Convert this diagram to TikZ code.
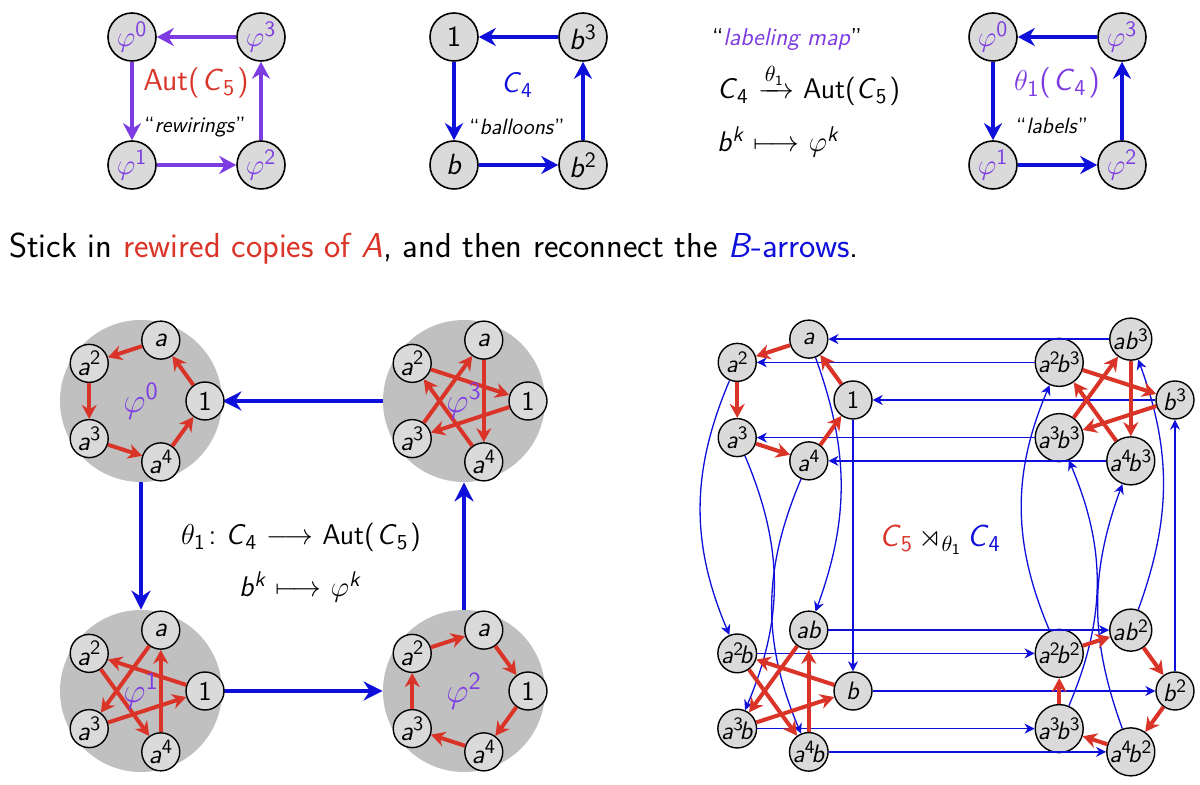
\documentclass[tikz,border=0pt]{standalone}
\usepackage{amsmath,amssymb}
\usetikzlibrary{arrows.meta}
\renewcommand\familydefault{\sfdefault}
\renewcommand\defaultscriptratio{.75}
\definecolor{cpur}{RGB}{125,60,225}
\definecolor{cred}{RGB}{218,52,40}
\definecolor{cblue}{RGB}{15,15,220}
\definecolor{nodegray}{RGB}{218,218,218}
\definecolor{balgray}{RGB}{192,192,192}
\newcommand\sps[1]{$^{\textup{#1}}$}
\newcommand\sbs[1]{$_{\textup{#1}}$}
\newcommand\Cn[1]{\textit{C}\sbs{#1}}
\newcommand\apow[1]{\ifcase#1 1\or\textit{a}\else\textit{a}\sps{#1}\fi}
\newcommand\bsup[1]{\ifnum#1>1 \sps{#1}\fi}
\newcommand\abp[2]{\ifnum#2=0 \apow{#1}\else\ifcase#1 \textit{b}\bsup{#2}\or\textit{ab}\bsup{#2}\else\textit{a}\sps{#1}\kern-.17em\textit{b}\ifnum\numexpr#1*10+#2\relax=32 \sps{3}\else\bsup{#2}\fi\fi\fi}
\tikzset{
 bignode/.style={circle, draw=black, line width=0.8pt, fill=nodegray, minimum size=24pt, inner sep=0pt, font=\fontsize{14.6}{16}\selectfont},
 smallnode/.style={circle, draw=black, line width=0.7pt, fill=nodegray, minimum size=19pt, inner sep=0pt, font=\fontsize{13.6}{15}\selectfont},
 cnode/.style={smallnode, font=\fontsize{12.6}{14}\selectfont},
 balloon/.style={circle, fill=balgray, minimum size=81pt, inner sep=0pt},
 tarrow/.style={line width=2pt, -{Stealth[length=8.5pt,width=9pt]}},
 rarrow/.style={cred, line width=2pt, -{Stealth[length=7pt,width=7.5pt]}},
 barrow/.style={cblue, line width=2.2pt, -{Stealth[length=9.5pt,width=9.5pt]}},
 carrow/.style={cblue, line width=0.65pt, -{Stealth[length=5pt,width=5pt]}},
 lbl/.style={font=\fontsize{14.2}{16}\selectfont},
 qlbl/.style={font=\fontsize{11.1}{13}\selectfont},
}
\begin{document}
\begin{tikzpicture}[x=0.5pt,y=-0.5pt]
\useasboundingbox (0,0) rectangle (1200,785);
\fill[white] (0,0) rectangle (1200,785);
% ---------- panel 1
\node[bignode,text=cpur] (p0) at (132,37) {$\varphi^{\textup{0}}$};
\node[bignode,text=cpur] (p3) at (261,37) {$\varphi^{\textup{3}}$};
\node[bignode,text=cpur] (p1) at (132,165) {$\varphi^{\textup{1}}$};
\node[bignode,text=cpur] (p2) at (261,165) {$\varphi^{\textup{2}}$};
\draw[tarrow,cpur] (p3) -- (p0);
\draw[tarrow,cpur] (p0) -- (p1);
\draw[tarrow,cpur] (p1) -- (p2);
\draw[tarrow,cpur] (p2) -- (p3);
\node[lbl,text=cred,font=\fontsize{15.2}{17}\selectfont] (autl) at (196,83) {Aut(\kern.06em\Cn{5}\kern.06em)};
\node[qlbl] (rewl) at (195,127) {\textquotedblleft\textit{rewirings}\textquotedblright};
% ---------- panel 2
\node[bignode] (c0) at (454,37) {1};
\node[bignode] (c3) at (583,37) {\textit{b}\sps{3}};
\node[bignode] (c1) at (454,165) {\textit{b}};
\node[bignode] (c2) at (583,165) {\textit{b}\sps{2}};
\draw[tarrow,cblue] (c3) -- (c0);
\draw[tarrow,cblue] (c0) -- (c1);
\draw[tarrow,cblue] (c1) -- (c2);
\draw[tarrow,cblue] (c2) -- (c3);
\node[lbl,text=cblue] (c4l) at (517,85) {\Cn{4}};
\node[qlbl] (ball) at (517,127) {\textquotedblleft\textit{balloons}\textquotedblright};
% ---------- labeling map
\node[font=\fontsize{12.2}{14}\selectfont] (lmap) at (787,40) {\textquotedblleft\textcolor{cpur}{\textit{labeling map}}\textquotedblright};
\node[lbl,anchor=base west] (m1) at (710,99) {\Cn{4} $\xrightarrow{\theta_{\textup{1}}}$ Aut(\Cn{5}\kern.06em)};
\node[lbl,anchor=base west] (m2) at (710,152) {\textit{b}$^{\textit{k}}$ $\longmapsto$ $\varphi^{\textit{k}}$};
% ---------- panel 4
\node[bignode,text=cpur] (q0) at (993,37) {$\varphi^{\textup{0}}$};
\node[bignode,text=cpur] (q3) at (1122,37) {$\varphi^{\textup{3}}$};
\node[bignode,text=cpur] (q1) at (993,165) {$\varphi^{\textup{1}}$};
\node[bignode,text=cpur] (q2) at (1122,165) {$\varphi^{\textup{2}}$};
\draw[tarrow,cblue] (q3) -- (q0);
\draw[tarrow,cblue] (q0) -- (q1);
\draw[tarrow,cblue] (q1) -- (q2);
\draw[tarrow,cblue] (q2) -- (q3);
\node[lbl,text=cpur,font=\fontsize{15.2}{17}\selectfont] (thl) at (1057,83) {$\theta_{\textup{1}}$(\kern.06em\Cn{4}\kern.06em)};
\node[qlbl] (labl) at (1052,126) {\textquotedblleft\textit{labels}\textquotedblright};
% ---------- sentence
\node[anchor=base west,font=\fontsize{17.3}{20}\selectfont] (sent) at (2,258) {Stick in \textcolor{cred}{rewired copies of \textit{A}}, and then reconnect the \textcolor{cblue}{\textit{B}-arrows}.};
% ---------- balloons
\foreach \bn/\cx/\cy in {B0/141/401, B1/141/691, B2/464/691, B3/464/401} {
  \node[balloon] (\bn) at (\cx,\cy) {};
}
\draw[barrow] (B3) -- (B0);
\draw[barrow] (B0) -- (B1);
\draw[barrow] (B1) -- (B2);
\draw[barrow] (B2) -- (B3);
\foreach \bn/\cx/\cy/\k/\m in {B0/141/401/0/1, B1/141/691/1/2, B2/464/691/2/4, B3/464/401/3/3} {
  \foreach \i in {0,...,4} {
    \node[smallnode] (\bn-\i) at ({\cx+64*cos(72*\i)},{\cy-64*sin(72*\i)}) {\apow{\i}};
  }
  \foreach \i in {0,...,4} {
    \pgfmathtruncatemacro\j{mod(\i+\m,5)}
    \draw[rarrow] (\bn-\i) -- (\bn-\j);
  }
  \node[text=cpur,font=\fontsize{16.5}{18}\selectfont] (\bn-lab) at (\cx,\cy) {$\varphi^{\textup{\k}}$};
}
\node[lbl,anchor=base] (hom1) at (301,545) {$\theta_{\textup{1}}$\kern.1em:\ \Cn{4} $\longrightarrow$ Aut(\kern.06em\Cn{5}\kern.06em)};
\node[lbl,anchor=base west] (hom2) at (232,597) {\textit{b}$^{\textit{k}}$ $\longmapsto$ $\varphi^{\textit{k}}$};
% ---------- Cayley graph
\foreach \g/\cx/\cy/\jj in {G0/789/400/0, G1/789/691/1, G2/1111/691/2, G3/1111/400/3} {
  \foreach \i in {0,...,4} {
    \node[cnode] (\g-\i) at ({\cx+64*cos(72*\i)},{\cy-64*sin(72*\i)}) {\abp{\i}{\jj}};
  }
}
\foreach \i in {0,...,4} {
  \draw[carrow] (G3-\i) -- (G0-\i);
  \draw[carrow] (G1-\i) -- (G2-\i);
}
\draw[carrow] (G0-0) -- (G1-0);
\draw[carrow] (G0-1) to[bend left=20] (G1-1);
\draw[carrow] (G0-2) to[bend right=23] (G1-2);
\draw[carrow] (G0-3) to[bend left=23] (G1-3);
\draw[carrow] (G0-4) to[bend right=23] (G1-4);
\draw[carrow] (G2-0) -- (G3-0);
\draw[carrow] (G2-1) to[bend right=20] (G3-1);
\draw[carrow] (G2-2) to[bend left=23] (G3-2);
\draw[carrow] (G2-3) to[bend right=23] (G3-3);
\draw[carrow] (G2-4) to[bend left=20] (G3-4);
\foreach \g/\m in {G0/1, G1/2, G2/4, G3/3} {
  \foreach \i in {0,...,4} {
    \pgfmathtruncatemacro\j{mod(\i+\m,5)}
    \draw[rarrow] (\g-\i) -- (\g-\j);
  }
}
\node[font=\fontsize{15.2}{17}\selectfont] (sdp) at (940,540) {\textcolor{cred}{\Cn{5}}\,$\rtimes_{\theta_{\textup{1}}}$\,\textcolor{cblue}{\Cn{4}}};
\end{tikzpicture}
\end{document}
